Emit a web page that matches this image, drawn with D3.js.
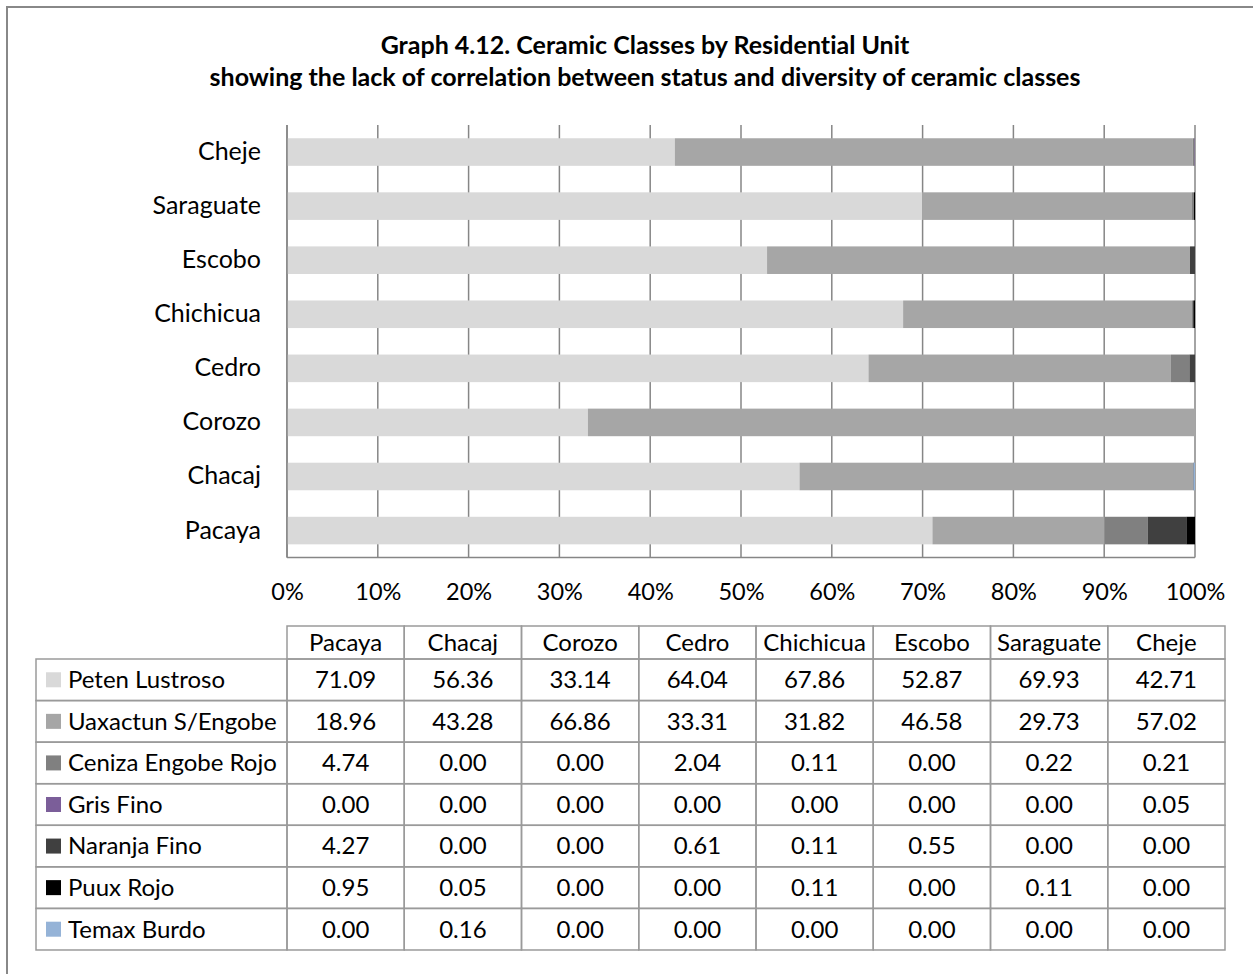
<!DOCTYPE html>
<html>
<head>
<meta charset="utf-8">
<script src="https://cdn.jsdelivr.net/npm/d3@7"></script>
<style>
  body { margin: 0; background: #fff; }
  svg text { font-family: Lato, "Open Sans", sans-serif; fill: #000; font-variant-ligatures: none; }
</style>
</head>
<body>
<div class="chart"></div>
<script>
// residential units, in table order (Pacaya ends up at the bottom of the bars)
var units = ["Pacaya", "Chacaj", "Corozo", "Cedro", "Chichicua", "Escobo", "Saraguate", "Cheje"];
var classes = ["Peten Lustroso", "Uaxactun S/Engobe", "Ceniza Engobe Rojo", "Gris Fino", "Naranja Fino", "Puux Rojo", "Temax Burdo"];
var classColors = ["#d9d9d9", "#a6a6a6", "#808080", "#7b5e99", "#404040", "#000000", "#95b3d7"];

var petenLustroso   = [71.09, 56.36, 33.14, 64.04, 67.86, 52.87, 69.93, 42.71];
var uaxactun        = [18.96, 43.28, 66.86, 33.31, 31.82, 46.58, 29.73, 57.02];
var cenizaRojo      = [4.74, 0.00, 0.00, 2.04, 0.11, 0.00, 0.22, 0.21];
var grisFino        = [0.00, 0.00, 0.00, 0.00, 0.00, 0.00, 0.00, 0.05];
var naranjaFino     = [4.27, 0.00, 0.00, 0.61, 0.11, 0.55, 0.00, 0.00];
var puuxRojo        = [0.95, 0.05, 0.00, 0.00, 0.11, 0.00, 0.11, 0.00];
var temaxBurdo      = [0.00, 0.16, 0.00, 0.00, 0.00, 0.00, 0.00, 0.00];
var seriesValues = [petenLustroso, uaxactun, cenizaRojo, grisFino, naranjaFino, puuxRojo, temaxBurdo];

var tickValues = [0, 0.1, 0.2, 0.3, 0.4, 0.5, 0.6, 0.7, 0.8, 0.9, 1.0];

var titleLines = ["Graph 4.12. Ceramic Classes by Residential Unit",
                  "showing the lack of correlation between status and diversity of ceramic classes"];

drawChart();

function drawChart(){
    var w = 1253, h = 974;
    var svg = d3.select(".chart").append("svg")
      .attr("width", w).attr("height", h);

    // chart border (right and bottom edges run off the picture)
    svg.append("rect")
      .attr("x", 7).attr("y", 7).attr("width", 1300).attr("height", 1000)
      .attr("fill", "#fff").attr("stroke", "#888").attr("stroke-width", 2);

    // title
    svg.selectAll(".title").data(titleLines).enter()
      .append("text")
      .attr("x", 645)
      .attr("y", function(d, i){ return 45 + i * 32; })
      .attr("dy", "0.35em")
      .attr("text-anchor", "middle")
      .style("font-weight", "bold")
      .style("font-size", "25px")
      .text(function(d){ return d; });

    // rows: one object per unit, converted to shares of its total
    var rows = units.map(function(u, j){
      var o = {unit: u};
      var total = d3.sum(seriesValues, function(s){ return s[j]; });
      classes.forEach(function(c, i){ o[c] = seriesValues[i][j] / total; });
      return o;
    });
    var stacked = d3.stack().keys(classes)(rows);

    var x = d3.scaleLinear().domain([0, 1]).range([287, 1195]);
    var y = d3.scaleBand()
      .domain(units.slice().reverse())
      .range([125, 557.6])
      .paddingInner(0.49)
      .paddingOuter(0.245);

    // vertical gridlines
    svg.append("g")
      .selectAll("line")
      .data(tickValues)
      .enter().append("line")
      .attr("x1", function(d){ return x(d); })
      .attr("x2", function(d){ return x(d); })
      .attr("y1", 125).attr("y2", 557.6)
      .attr("stroke", "#868686").attr("stroke-width", 1.5);

    // bars
    var color = d3.scaleOrdinal().domain(classes).range(classColors);
    svg.append("g")
      .selectAll("g")
      .data(stacked)
      .enter().append("g")
      .attr("fill", function(d){ return color(d.key); })
      .selectAll("rect")
      .data(function(d){ return d; })
      .enter().append("rect")
      .attr("x", function(d){ return x(d[0]); })
      .attr("y", function(d){ return y(d.data.unit); })
      .attr("width", function(d){ return x(d[1]) - x(d[0]); })
      .attr("height", y.bandwidth());

    // axes lines
    svg.append("line")
      .attr("x1", 287).attr("x2", 287).attr("y1", 125).attr("y2", 557.6)
      .attr("stroke", "#868686").attr("stroke-width", 1.5);
    svg.append("line")
      .attr("x1", 287).attr("x2", 1195).attr("y1", 557.6).attr("y2", 557.6)
      .attr("stroke", "#868686").attr("stroke-width", 1.5);

    // category labels
    var yAxis = d3.axisLeft(y).tickSize(0).tickPadding(26);
    var gy = svg.append("g").attr("transform", "translate(287,0)").call(yAxis);
    gy.select(".domain").remove();
    gy.selectAll("text").style("font-size", "25px").style("font-family", "Lato, sans-serif");

    // percent labels
    var xAxis = d3.axisBottom(x).tickValues(tickValues).tickSize(0).tickPadding(0)
      .tickFormat(d3.format(".0%"));
    var gx = svg.append("g").attr("transform", "translate(0,592)").call(xAxis);
    gx.select(".domain").remove();
    gx.selectAll("text").attr("dy", "0.35em").attr("y", 0)
      .style("font-size", "23.5px").style("font-family", "Lato, sans-serif");

    // data table
    var colX = d3.scaleBand().domain(units).range([287, 1225]);
    var headTop = 626, rowTop = 659, rowH = 41.57;
    var rowY = d3.scaleBand().domain(classes).range([rowTop, rowTop + rowH * classes.length]);
    var tbl = svg.append("g");
    var lineColor = "#9a9a9a";
    var fs = "24px";

    // header cells
    tbl.selectAll(".hcell").data(units).enter().append("rect")
      .attr("x", function(d){ return colX(d); }).attr("y", headTop)
      .attr("width", colX.bandwidth()).attr("height", rowTop - headTop)
      .attr("fill", "none").attr("stroke", lineColor).attr("stroke-width", 1.5);
    tbl.selectAll(".htext").data(units).enter().append("text")
      .attr("x", function(d){ return colX(d) + colX.bandwidth() / 2; })
      .attr("y", (headTop + rowTop) / 2)
      .attr("dy", "0.35em").attr("text-anchor", "middle")
      .style("font-size", fs)
      .text(function(d){ return d; });

    // body rows
    classes.forEach(function(c, i){
      var ry = rowY(c);
      tbl.append("rect")
        .attr("x", 36).attr("y", ry).attr("width", 287 - 36).attr("height", rowH)
        .attr("fill", "none").attr("stroke", lineColor).attr("stroke-width", 1.5);
      tbl.append("rect")
        .attr("x", 46).attr("y", ry + rowH / 2 - 7.5).attr("width", 15).attr("height", 15)
        .attr("fill", classColors[i]);
      tbl.append("text")
        .attr("x", 68).attr("y", ry + rowH / 2).attr("dy", "0.35em")
        .style("font-size", fs)
        .text(c);
      units.forEach(function(u, j){
        tbl.append("rect")
          .attr("x", colX(u)).attr("y", ry).attr("width", colX.bandwidth()).attr("height", rowH)
          .attr("fill", "none").attr("stroke", lineColor).attr("stroke-width", 1.5);
        tbl.append("text")
          .attr("x", colX(u) + colX.bandwidth() / 2).attr("y", ry + rowH / 2)
          .attr("dy", "0.35em").attr("text-anchor", "middle")
          .style("font-size", fs)
          .text(seriesValues[i][j].toFixed(2));
      });
    });
}
</script>
</body>
</html>
